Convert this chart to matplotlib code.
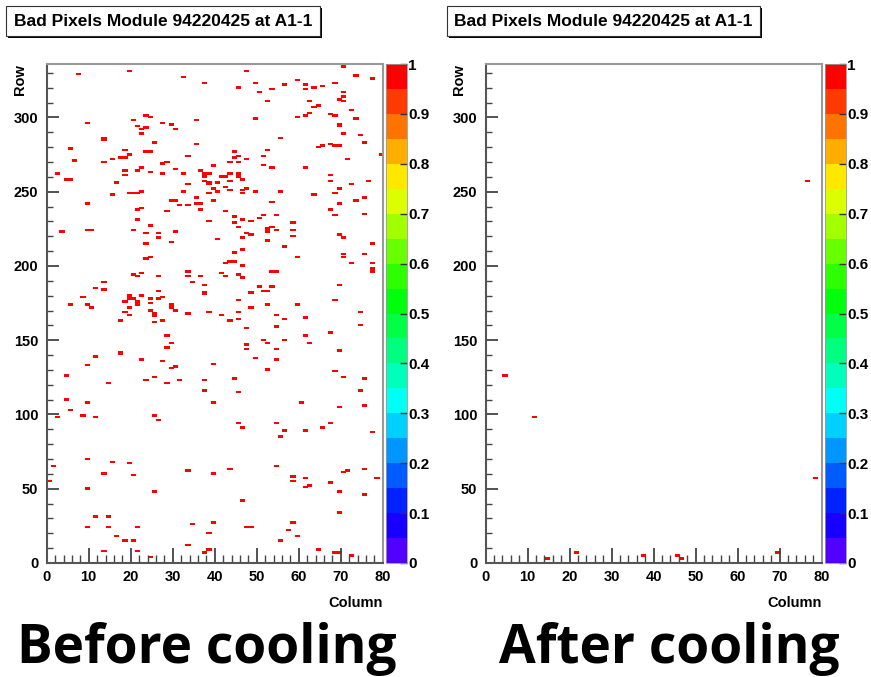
import colorsys
import numpy as np
import matplotlib
matplotlib.use("Agg")
import matplotlib.pyplot as plt
from matplotlib.colors import ListedColormap, Normalize
from matplotlib.patches import Rectangle

plt.rcParams["font.family"] = "Liberation Sans"
plt.rcParams["font.weight"] = "bold"

n_cols = 80
n_rows = 336
title = "Bad Pixels Module 94220425 at A1-1"
captions = ["Before cooling", "After cooling"]
cbar_ticks = [0, 0.1, 0.2, 0.3, 0.4, 0.5, 0.6, 0.7, 0.8, 0.9, 1]
cbar_labels = ["0", "0.1", "0.2", "0.3", "0.4", "0.5", "0.6", "0.7", "0.8", "0.9", "1"]

# bad pixels before cooling (column, row)
before_cols = [
    7, 19, 32, 37, 23, 24, 20, 27, 29, 35, 9, 21, 23, 22, 30, 22, 13, 13, 25, 35,
    5, 18, 23, 24, 19, 17, 18, 15, 6, 13, 28, 27, 33, 39, 39, 22, 30, 2, 4, 5,
    18, 21, 24, 18, 27, 32, 36, 37, 38, 37, 37, 38, 38, 39, 33, 16, 19, 20, 21, 22,
    15, 32, 35, 38, 39, 29, 30, 31, 33, 35, 36, 36, 9, 21, 22, 28, 21, 24, 38, 3,
    9, 10, 20, 23, 26, 30,
    70, 47, 73, 77, 59, 49, 56, 61, 68, 45, 53, 61, 63, 65, 50, 70, 70, 69, 70, 52,
    62, 64, 63, 72, 62, 61, 59, 67, 68, 49, 73, 69, 69, 70, 74, 55, 75, 67, 65, 64,
    68, 69, 52, 44, 51, 44, 45, 47, 43, 45, 71, 79, 51, 53, 61, 43, 45, 45, 41, 42,
    46, 40, 43, 67, 67, 76, 72, 42, 47, 46, 43, 40, 46, 49, 55, 69, 68, 63, 75, 73,
    69, 53, 42, 67, 68, 75, 44, 51, 54, 50, 46, 48, 44, 58, 53, 52, 54, 45, 58, 52,
    47,
    26, 29, 23, 23, 24, 20, 22, 21, 26, 33, 33, 36, 34, 37, 37, 37, 13, 11, 13, 8,
    19, 19, 20, 22, 24, 26, 27, 26, 18, 21, 21, 19, 18, 19, 24, 24, 25, 25, 25, 27,
    29, 29, 30, 33, 38, 5, 9, 10, 17, 28, 29, 28, 17, 17, 11, 22, 27, 39, 9, 29,
    30, 4, 25, 23, 31, 37, 14, 28, 37, 4, 9,
    48, 40, 46, 52, 58, 69, 70, 77, 56, 46, 44, 70, 75, 70, 59, 43, 44, 42, 46, 72,
    77, 77, 77, 53, 54, 41, 42, 45, 46, 69, 50, 53, 51, 52, 48, 45, 68, 52, 59, 48,
    45, 74, 41, 54, 45, 43, 56, 61, 74, 47, 54, 67, 61, 51, 52, 56, 62, 47, 47, 54,
    69, 49, 54, 52, 68, 70, 75, 44, 74, 45, 60,
    39, 2, 5, 8, 11, 25, 26, 9, 15, 19, 1, 13, 20, 33, 39, 0, 9, 25, 11, 14,
    9, 14, 21, 34, 39, 16, 18, 20, 38, 33, 38, 13, 21, 37, 24,
    69, 75, 45, 46, 54, 56, 61, 55, 65, 67, 77, 43, 54, 58, 58, 61, 62, 61, 67, 71,
    70, 75, 78, 69, 75, 46, 69, 47, 48, 58, 57, 59, 55, 64, 68, 69, 72,
]
before_rows = [
    329, 331, 327, 323, 301, 300, 298, 296, 295, 298, 296, 294, 293, 292, 292, 289, 285, 286, 283, 282,
    279, 278, 277, 277, 275, 273, 273, 272, 271, 270, 270, 269, 274, 267, 268, 266, 265, 262, 258, 258,
    264, 264, 263, 261, 262, 262, 264, 262, 262, 260, 257, 255, 256, 252, 255, 256, 249, 249, 249, 250,
    248, 250, 246, 249, 244, 244, 244, 241, 241, 242, 242, 238, 242, 238, 239, 237, 231, 227, 230, 223,
    224, 224, 224, 222, 222, 223,
    334, 331, 328, 326, 325, 323, 322, 322, 323, 320, 319, 319, 320, 321, 317, 317, 314, 312, 311, 311,
    311, 308, 307, 305, 303, 301, 300, 302, 301, 299, 299, 294, 295, 289, 288, 286, 283, 282, 281, 280,
    281, 281, 278, 277, 274, 273, 274, 272, 270, 270, 272, 275, 268, 266, 266, 262, 262, 260, 260, 260,
    258, 256, 257, 261, 257, 257, 255, 253, 252, 251, 251, 250, 249, 250, 250, 252, 249, 248, 246, 244,
    242, 243, 237, 238, 234, 235, 233, 234, 234, 232, 231, 230, 229, 229, 226, 225, 224, 226, 224, 223,
    222,
    219, 216, 215, 205, 206, 194, 195, 193, 193, 196, 193, 193, 189, 187, 181, 182, 189, 185, 184, 179,
    180, 178, 178, 180, 178, 178, 179, 183, 176, 176, 174, 172, 169, 167, 175, 170, 168, 166, 162, 163,
    174, 172, 170, 168, 169, 174, 174, 172, 163, 153, 148, 145, 141, 142, 139, 137, 136, 134, 133, 131,
    132, 126, 125, 123, 123, 123, 121, 121, 116, 110, 108,
    221, 218, 219, 217, 220, 221, 219, 215, 213, 211, 209, 208, 208, 206, 206, 203, 203, 202, 200, 202,
    202, 198, 196, 196, 196, 195, 193, 194, 192, 187, 186, 186, 183, 183, 182, 177, 177, 174, 174, 172,
    169, 169, 167, 167, 164, 163, 164, 165, 160, 158, 159, 155, 153, 150, 148, 150, 148, 147, 144, 144,
    143, 138, 137, 130, 129, 125, 124, 124, 116, 115, 108,
    108, 98, 103, 99, 98, 99, 96, 70, 68, 67, 65, 60, 59, 62, 60, 55, 50, 48, 31, 31,
    24, 24, 24, 26, 27, 18, 15, 15, 20, 12, 9, 8, 8, 7, 4,
    105, 106, 94, 91, 94, 89, 89, 85, 91, 94, 88, 63, 65, 58, 55, 57, 52, 51, 54, 62,
    61, 63, 57, 48, 46, 42, 34, 24, 24, 27, 22, 18, 15, 9, 7, 7, 5,
]

# bad pixels after cooling (column, row)
after_cols = [76, 4, 11, 78, 21, 14, 37, 45, 46, 69]
after_rows = [257, 126, 98, 57, 7, 3, 5, 5, 3, 7]

# ROOT like rainbow palette with 20 levels
colors = [colorsys.hsv_to_rgb(0.72 * (1 - i / 19), 1, 1) for i in range(20)]
cmap = ListedColormap(colors)
norm = Normalize(0, 1)

W, H = 871, 677
fig = plt.figure(figsize=(W / 100, H / 100), dpi=100)


def fx(px):
    return px / W


def fy(py):
    return 1 - py / H


def hitmap(cols, rows):
    m = np.zeros((n_rows, n_cols))
    m[rows, cols] = 1
    return np.ma.masked_equal(m, 0)


def panel(x0, cols, rows, box_x0, box_x1, caption, caption_x):
    ax = fig.add_axes([fx(x0), fy(563), fx(336), (563 - 64) / H])
    mesh = ax.pcolormesh(np.arange(n_cols + 1), np.arange(n_rows + 1), hitmap(cols, rows),
                         cmap=cmap, norm=norm, edgecolors="face", linewidth=0.6)
    ax.set_xlim(0, n_cols)
    ax.set_ylim(0, n_rows)
    ax.set_xticks(range(0, 81, 10))
    ax.set_xticks(range(0, 81, 2), minor=True)
    ax.set_yticks(range(0, 301, 50))
    ax.set_yticks(range(0, 331, 10), minor=True)
    ax.tick_params(axis="both", which="both", direction="in", colors="#444444",
                   labelcolor="black", labelsize=10.5, top=False, right=False)
    ax.tick_params(axis="x", which="major", length=11, width=1.3, pad=5)
    ax.tick_params(axis="x", which="minor", length=5.5, width=1)
    ax.tick_params(axis="y", which="major", length=8.5, width=1.3, pad=6)
    ax.tick_params(axis="y", which="minor", length=4.3, width=1)
    for s in ["left", "bottom"]:
        ax.spines[s].set_color("#555555")
        ax.spines[s].set_linewidth(1.5)
    for s in ["top", "right"]:
        ax.spines[s].set_color("#999999")
        ax.spines[s].set_linewidth(1.5)

    cax = fig.add_axes([fx(x0 + 339), fy(563), fx(21), (563 - 64) / H])
    cb = fig.colorbar(mesh, cax=cax, ticks=cbar_ticks)
    cb.ax.set_yticklabels(cbar_labels)
    cb.ax.tick_params(direction="in", length=5, width=1, colors="#333333",
                      labelcolor="black", labelsize=11, pad=1)
    cb.outline.set_linewidth(0.6)
    cb.outline.set_edgecolor("#999999")

    fig.text(fx(x0 - 27), fy(64), "Row", rotation=90, ha="center", va="top",
             fontsize=10.5, fontweight="bold")
    fig.text(fx(x0 + 336), fy(603), "Column", ha="right", va="center",
             fontsize=10.5, fontweight="bold")

    # title box with a thin shadow
    fig.patches.append(Rectangle((fx(box_x0 + 1.5), fy(37.5)), fx(box_x1 - box_x0), (37.5 - 7.5) / H,
                                 transform=fig.transFigure, facecolor="black", edgecolor="none"))
    fig.patches.append(Rectangle((fx(box_x0), fy(36)), fx(box_x1 - box_x0), (36 - 6) / H,
                                 transform=fig.transFigure, facecolor="white",
                                 edgecolor="#333333", linewidth=0.8))
    fig.text(fx((box_x0 + box_x1) / 2), fy(22), title, ha="center", va="center",
             fontsize=12.5, fontweight="bold")

    fig.text(fx(caption_x), fy(663), caption, ha="left", va="baseline",
             fontsize=38.3, fontweight="bold", family="Open Sans")
    return ax


panel(46.7, before_cols, before_rows, 6, 320, captions[0], 17)
panel(485.5, after_cols, after_rows, 447, 760, captions[1], 499)

fig.savefig("out.png", dpi=100)
